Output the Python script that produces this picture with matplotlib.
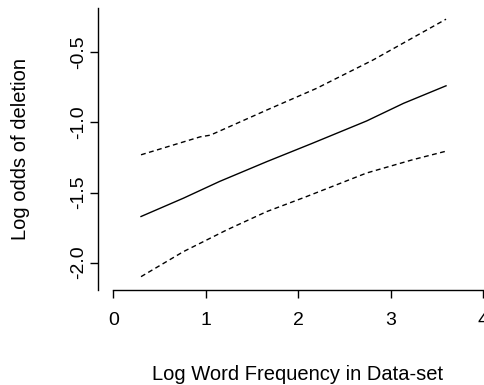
import matplotlib.pyplot as plt

# === DATA ===
freq = [0.30, 0.76, 1.15, 1.66, 2.15, 2.74, 3.14, 3.60]
fit = [-1.671, -1.54, -1.421, -1.28, -1.150, -0.99, -0.864, -0.739]

upper_x = [0.30, 0.94, 1.05, 1.66, 2.20, 2.81, 3.60]
upper = [-1.231, -1.103, -1.091, -0.912, -0.757, -0.555, -0.264]

lower_x = [0.30, 0.76, 1.23, 1.66, 2.09, 2.74, 3.24, 3.59]
lower = [-2.10, -1.921, -1.766, -1.636, -1.529, -1.361, -1.266, -1.207]

x_ticks = [0, 1, 2, 3, 4]
y_ticks = [-2.0, -1.5, -1.0, -0.5]

plt.rcParams['font.family'] = ['Liberation Sans', 'DejaVu Sans']

# === PLOT ===
fig = plt.figure(figsize=(4.85, 3.85), dpi=100)
ax = fig.add_axes([0.2014, 0.2468, 0.796, 0.7325])

ax.plot(freq, fit, color='black', lw=1.0)
ax.plot(upper_x, upper, color='black', lw=1.0, dashes=(3.5, 2.5))
ax.plot(lower_x, lower, color='black', lw=1.0, dashes=(3.5, 2.5))

ax.set_xlim(-0.169, 4.008)
ax.set_ylim(-2.195, -0.184)

for s in ['top', 'right']:
    ax.spines[s].set_visible(False)
ax.spines['bottom'].set_bounds(0, 4)
ax.spines['left'].set_linewidth(1.0)
ax.spines['bottom'].set_linewidth(1.0)

ax.set_xticks(x_ticks)
ax.set_xticklabels([str(t) for t in x_ticks])
ax.set_yticks(y_ticks)
ax.set_yticklabels([f'{t:.1f}' for t in y_ticks], rotation=90, va='center')
ax.tick_params(direction='out', length=6, width=1.0, labelsize=14)
ax.tick_params(axis='x', pad=10)
ax.tick_params(axis='y', pad=1.5)

ax.set_xlabel('Log Word Frequency in Data-set', fontsize=14.5, va='center')
ax.set_ylabel('Log odds of deletion', fontsize=14.5, va='center')
ax.xaxis.set_label_coords(0.519, -0.298)
ax.yaxis.set_label_coords(-0.199, 0.5)

plt.savefig('out.png', dpi=100)
plt.close()
